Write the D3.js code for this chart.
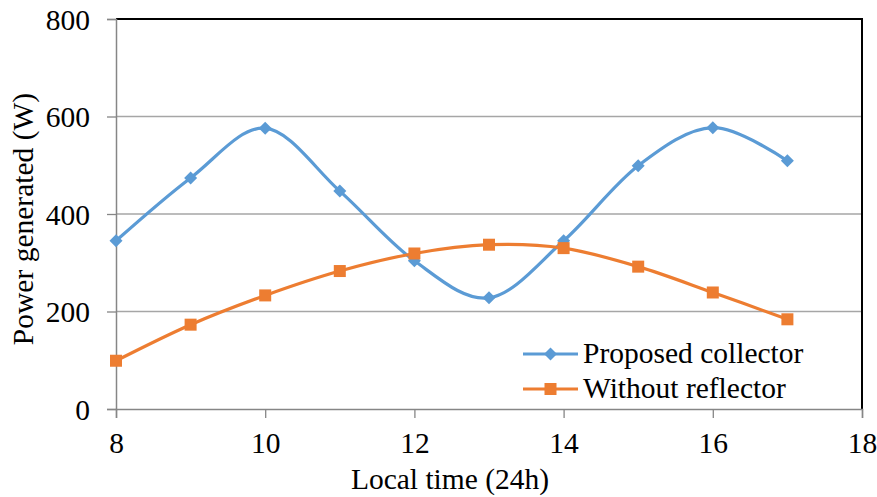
<!DOCTYPE html>
<html>
<head>
<meta charset="utf-8">
<script src="https://cdn.jsdelivr.net/npm/d3@7"></script>
<style>
  body { margin: 0; background: #fff; }
</style>
</head>
<body>
<script>
const hours = [8, 9, 10, 11, 12, 13, 14, 15, 16, 17];
const proposed = [345, 474, 576, 447, 304, 228, 345, 499, 577, 509];
const withoutRef = [99, 173, 233, 283, 319, 337, 330, 292, 239, 184];
const xTicks = [8, 10, 12, 14, 16, 18];
const yTicks = [0, 200, 400, 600, 800];
const seriesNames = ["Proposed collector", "Without reflector"];

const width = 877, height = 497;
const m = {left: 116, right: 15, top: 19, bottom: 88};
const font = "Liberation Serif";
const fs = 29.5;

const svg = d3.select("body").append("svg")
    .attr("width", width).attr("height", height);

const x = d3.scaleLinear().domain([8, 18]).range([m.left, width - m.right]);
const y = d3.scaleLinear().domain([0, 800]).range([height - m.bottom, m.top]);

// gridlines
svg.append("g")
  .selectAll("line")
  .data(yTicks.slice(1, -1))
  .enter().append("line")
    .attr("x1", x(8)).attr("x2", x(18))
    .attr("y1", d => y(d)).attr("y2", d => y(d))
    .attr("stroke", "#a6a6a6").attr("stroke-width", 1.3);

// plot border top / right
svg.append("path")
    .attr("d", `M${x(8)},${y(800)}H${x(18)}V${y(0)}`)
    .attr("fill", "none").attr("stroke", "#000").attr("stroke-width", 2);

const yAxis = svg.append("g")
    .attr("transform", `translate(${x(8)},0)`)
    .call(d3.axisLeft(y).tickValues(yTicks).tickSize(9).tickPadding(17));
const xAxis = svg.append("g")
    .attr("transform", `translate(0,${y(0)})`)
    .call(d3.axisBottom(x).tickValues(xTicks).tickSize(9).tickPadding(14));

[yAxis, xAxis].forEach(a => {
  a.attr("font-family", null).attr("font-size", null);
  a.select(".domain").attr("stroke", "#868686").attr("stroke-width", 1.5);
  a.selectAll(".tick line").attr("stroke", "#868686").attr("stroke-width", 1.3);
  a.selectAll("text").attr("fill", "#000")
    .attr("font-family", font).attr("font-size", fs);
});
yAxis.selectAll("text").attr("dy", "0.34em");

// axis titles
svg.append("text")
    .attr("x", 450).attr("y", 489)
    .attr("text-anchor", "middle")
    .attr("font-family", font).attr("font-size", fs)
    .text("Local time (24h)");
svg.append("text")
    .attr("transform", `translate(33,219) rotate(-90)`)
    .attr("text-anchor", "middle")
    .attr("font-family", font).attr("font-size", fs)
    .text("Power generated (W)");

const curve = d3.curveCardinal.tension(0);
const line = d3.line().x((d, i) => x(hours[i])).y(d => y(d)).curve(curve);

const blue = "#5b9bd5", orange = "#ed7d31";

function diamond(g, cx, cy, r) {
  g.append("path")
    .attr("d", `M${cx},${cy - r}L${cx + r},${cy}L${cx},${cy + r}L${cx - r},${cy}Z`)
    .attr("fill", blue);
}
function square(g, cx, cy, s) {
  g.append("rect")
    .attr("x", cx - s / 2).attr("y", cy - s / 2)
    .attr("width", s).attr("height", s)
    .attr("fill", orange);
}

svg.append("path").datum(proposed)
    .attr("d", line).attr("fill", "none")
    .attr("stroke", blue).attr("stroke-width", 3.2);
const gb = svg.append("g");
proposed.forEach((v, i) => diamond(gb, x(hours[i]), y(v), 6.5));

svg.append("path").datum(withoutRef)
    .attr("d", line).attr("fill", "none")
    .attr("stroke", orange).attr("stroke-width", 3.2);
const go = svg.append("g");
withoutRef.forEach((v, i) => square(go, x(hours[i]), y(v), 12));

// legend
const legend = svg.append("g");
const ly = [354, 389];
[blue, orange].forEach((c, i) => {
  legend.append("line")
    .attr("x1", 523).attr("x2", 578)
    .attr("y1", ly[i]).attr("y2", ly[i])
    .attr("stroke", c).attr("stroke-width", 3.2);
  if (i === 0) diamond(legend, 550.5, ly[i], 6.5);
  else square(legend, 550.5, ly[i], 12);
  legend.append("text")
    .attr("x", 583).attr("y", ly[i] + 9)
    .attr("font-family", font).attr("font-size", fs)
    .text(seriesNames[i]);
});
</script>
</body>
</html>
